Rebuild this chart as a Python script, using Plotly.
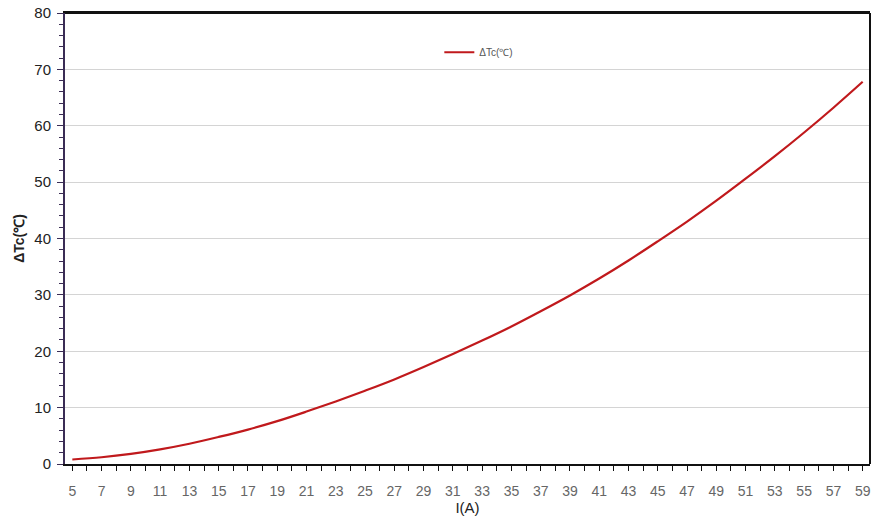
import plotly.graph_objects as go

# Current I (A) and temperature difference ΔTc (°C)
current = [5, 7, 9, 11, 13, 15, 17, 19, 21, 23, 25, 27, 29, 31,
           33, 35, 37, 39, 41, 43, 45, 47, 49, 51, 53, 55, 57, 59]
delta_tc = [0.8, 1.2, 1.8, 2.6, 3.6, 4.8, 6.1, 7.6, 9.3, 11.1, 13.0, 15.0, 17.2, 19.5,
            21.9, 24.4, 27.1, 29.9, 32.9, 36.1, 39.5, 43.0, 46.7, 50.6, 54.6, 58.8, 63.2, 67.8]
x_tick_vals = list(range(5, 60, 2))
y_tick_vals = list(range(0, 81, 10))

fig = go.Figure()
fig.add_trace(go.Scatter(
    x=current, y=delta_tc, mode="lines", name="ΔTc(℃)",
    line=dict(color="#c0191c", width=2.2, shape="spline"),
))

font = "Liberation Sans, Arial, sans-serif"
fig.update_layout(
    width=873, height=524,
    margin=dict(l=65, r=3, t=13, b=60),
    paper_bgcolor="white", plot_bgcolor="white",
    font=dict(family=font, size=13, color="#333"),
    showlegend=True,
    legend=dict(x=0.465, y=0.913, xanchor="left", yanchor="middle",
                bgcolor="rgba(0,0,0,0)", font=dict(size=10, color="#555"),
                itemwidth=30),
    xaxis=dict(
        range=[4.5, 59.5], tickmode="array", tickvals=x_tick_vals,
        tickfont=dict(size=14, color="#666"),
        ticks="outside", ticklen=5, tickcolor="#111", tickwidth=1,
        ticklabelstandoff=8,
        minor=dict(dtick=1, tick0=0, ticks="outside", ticklen=5, tickcolor="#111", showgrid=False),
        showline=True, linecolor="#111", linewidth=2, mirror=True,
        showgrid=False, zeroline=False,
        title=dict(text="I(A)", font=dict(size=15, color="#222"), standoff=4),
    ),
    yaxis=dict(
        range=[0, 80], tickmode="array", tickvals=y_tick_vals,
        tickfont=dict(size=15, color="#222"),
        ticks="outside", ticklen=6, tickcolor="#3b2d55", tickwidth=1,
        ticklabelstandoff=3,
        minor=dict(dtick=2, ticks="outside", ticklen=4, tickcolor="#3b2d55", showgrid=False),
        showline=True, linecolor="#3b2d55", linewidth=2, mirror=False,
        showgrid=True, gridcolor="#d4d4d4", gridwidth=1, zeroline=False,
        title=dict(text="<b>ΔTc(℃)</b>", font=dict(size=14, color="#222"), standoff=6),
    ),
)

# top and right frame lines
fig.add_shape(type="line", xref="paper", yref="paper", x0=0, x1=1, y0=1, y1=1,
              line=dict(color="#111", width=2))
fig.add_shape(type="line", xref="paper", yref="paper", x0=1, x1=1, y0=0, y1=1,
              line=dict(color="#111", width=2))

fig.write_html("out.html")
